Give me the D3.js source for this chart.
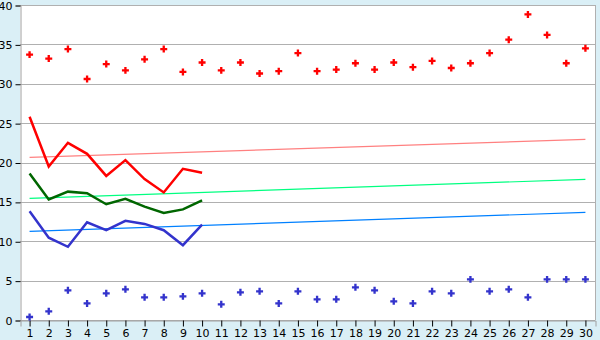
<!DOCTYPE html>
<html><head><meta charset="utf-8">
<script src="https://cdn.jsdelivr.net/npm/d3@7/dist/d3.min.js"></script>
<style>
html,body{margin:0;padding:0;background:#DAEFF6;}
svg{display:block;}
text{font-family:"DejaVu Sans",Verdana,sans-serif;font-size:11px;fill:#000;}
</style></head><body>
<svg id="c" width="600" height="340"></svg>
<script>
const categories = d3.range(1, 31).map(String);
const yTicks = [0, 5, 10, 15, 20, 25, 30, 35, 40];
const upperPoints = [33.7,33.2,34.4,30.6,32.5,31.7,33.1,34.4,31.5,32.7,31.7,32.7,31.3,31.6,33.9,31.6,31.8,32.6,31.8,32.7,32.1,32.9,32.0,32.6,33.9,35.6,38.8,36.2,32.6,34.5];
const lowerPoints = [0.38,1.1,3.77,2.1,3.39,3.9,2.88,2.88,3.0,3.39,1.99,3.51,3.64,2.1,3.64,2.63,2.63,4.15,3.77,2.37,2.1,3.64,3.39,5.16,3.64,3.9,2.88,5.16,5.16,5.16];
const redLine = [25.8,19.5,22.5,21.1,18.3,20.3,17.9,16.2,19.2,18.7];
const greenLine = [18.6,15.3,16.3,16.1,14.7,15.4,14.4,13.6,14.05,15.2];
const blueLine = [13.8,10.45,9.3,12.4,11.4,12.6,12.2,11.4,9.5,12.1];
const trendRed = [20.65, 22.94];
const trendGreen = [15.45, 17.86];
const trendBlue = [11.26, 13.67];

const svg = d3.select("#c");
const L = 20, R = 595, T = 5, B = 320;
const x = d3.scaleBand().domain(categories).range([L, R]);
const y = d3.scaleLinear().domain([0, 40]).range([B, T]);
const cx = c => x(c) + x.bandwidth() / 2;

svg.append("rect").attr("x", L).attr("y", T).attr("width", R - L).attr("height", B - T).attr("fill", "#fff");

svg.append("g").selectAll("line").data(yTicks).join("line")
  .attr("x1", L).attr("x2", R)
  .attr("y1", d => Math.round(y(d)) + 0.5).attr("y2", d => Math.round(y(d)) + 0.5)
  .attr("stroke", "#B0B0B0").attr("stroke-width", 1);

svg.append("line").attr("x1", R + 0.5).attr("x2", R + 0.5).attr("y1", T).attr("y2", B)
  .attr("stroke", "#B0B0B0");

const yAxis = d3.axisLeft(y).tickValues(yTicks).tickSize(5).tickPadding(3);
const gy = svg.append("g").attr("transform", `translate(${L + 0.5},0.5)`).call(yAxis);
gy.select(".domain").attr("stroke", "#A0A0A0");
gy.selectAll(".tick line").attr("stroke", "#000");
gy.selectAll("text").style("font-size", "11px");

const xAxis = d3.axisBottom(x).tickSize(6).tickPadding(3);
const gx = svg.append("g").attr("transform", `translate(0.5,${B + 0.5})`).call(xAxis);
gx.select(".domain").attr("stroke", "#A0A0A0");
gx.selectAll(".tick line").attr("stroke", "#000");
gx.selectAll("text").style("font-size", "11px");

const trends = [[trendRed, "#FF8080"], [trendGreen, "#00FF80"], [trendBlue, "#0080FF"]];
trends.forEach(([t, col]) => {
  svg.append("line")
    .attr("x1", cx(categories[0])).attr("y1", y(t[0]))
    .attr("x2", cx(categories[categories.length - 1])).attr("y2", y(t[1]))
    .attr("stroke", col).attr("stroke-width", 1.2);
});

const line = d3.line().x((d, i) => cx(categories[i])).y(d => y(d));
[[redLine, "#FF0000"], [greenLine, "#006600"], [blueLine, "#3333CC"]].forEach(([s, col]) => {
  svg.append("path").datum(s).attr("d", line).attr("fill", "none")
    .attr("stroke", col).attr("stroke-width", 2.5).attr("stroke-linejoin", "miter");
});

const sym = d3.symbol().type(d3.symbolCross).size(27);
[[upperPoints, "#FF0000"], [lowerPoints, "#3333CC"]].forEach(([s, col]) => {
  svg.append("g").selectAll("path").data(s).join("path")
    .attr("d", sym)
    .attr("transform", (d, i) => `translate(${cx(categories[i])},${y(d)})`)
    .attr("fill", col);
});
</script>
</body></html>
